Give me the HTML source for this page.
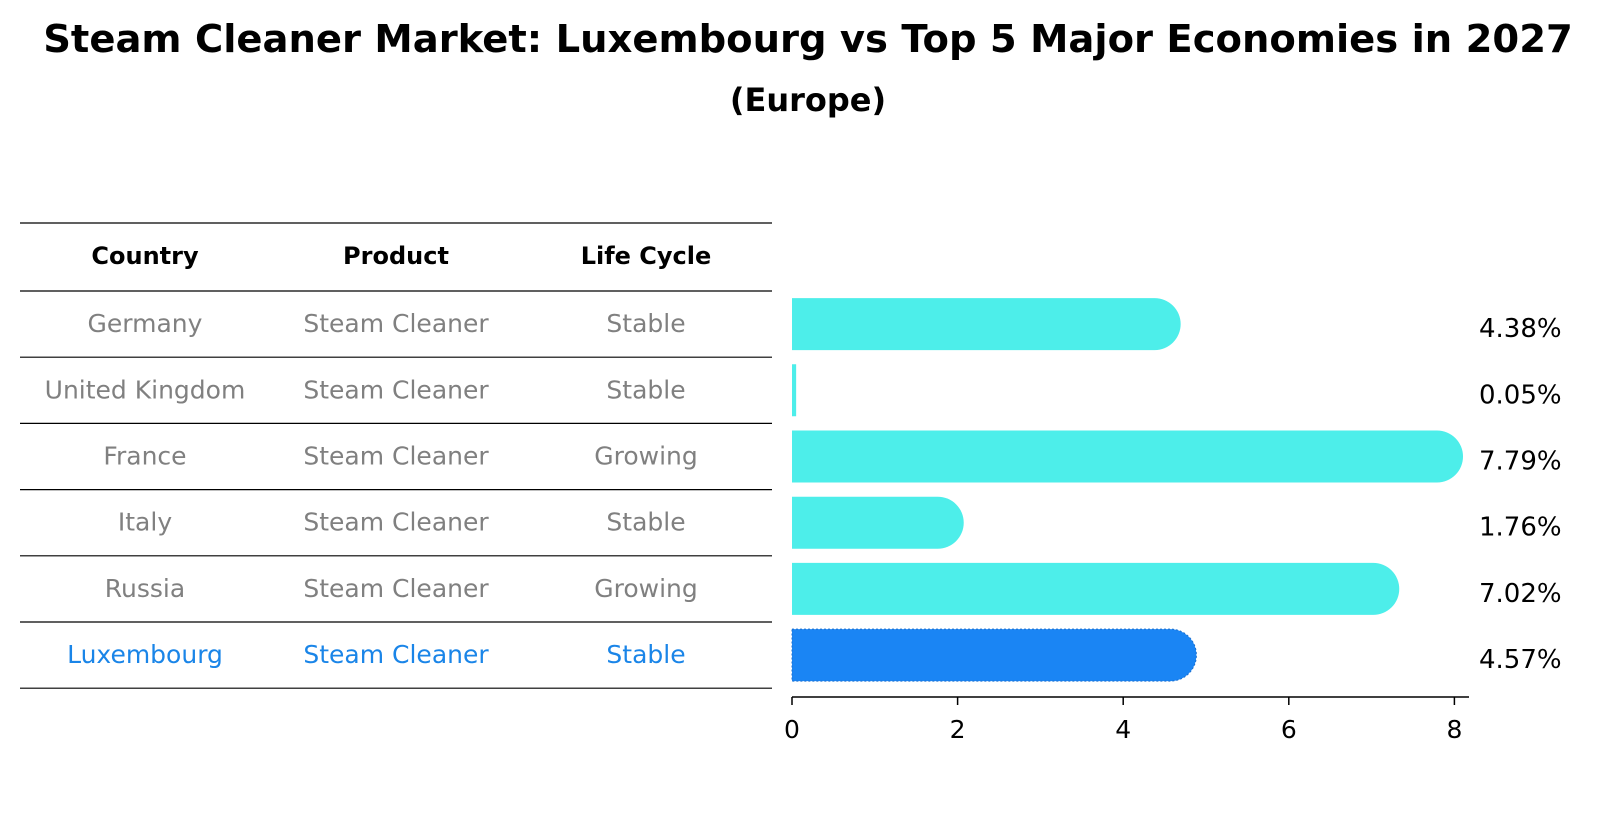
<!DOCTYPE html>
<html><head><meta charset="utf-8"><style>
html,body{margin:0;padding:0;background:#fff;}
svg{display:block;font-family:"DejaVu Sans","Liberation Sans",sans-serif;}
</style></head><body>
<svg id="chart" width="1599" height="823" viewBox="0 0 1599 823">
<text x="808" y="52" text-anchor="middle" font-size="38.5" font-weight="bold">Steam Cleaner Market: Luxembourg vs Top 5 Major Economies in 2027</text>
<text x="808" y="111" text-anchor="middle" font-size="32" font-weight="bold">(Europe)</text>
<g id="table"></g>
<g id="bars"></g>
</svg>
<script>
const countries=["Germany","United Kingdom","France","Italy","Russia","Luxembourg"];
const products=["Steam Cleaner","Steam Cleaner","Steam Cleaner","Steam Cleaner","Steam Cleaner","Steam Cleaner"];
const lifeCycles=["Stable","Stable","Growing","Stable","Growing","Stable"];
const growth=[4.38,0.05,7.79,1.76,7.02,4.57];
const xTicks=[0,2,4,6,8];

const NS="http://www.w3.org/2000/svg";
function mk(tag,attrs,parent,text){const e=document.createElementNS(NS,tag);for(const k in attrs)e.setAttribute(k,attrs[k]);if(text!==undefined)e.textContent=text;parent.appendChild(e);return e;}
const x0=792, pxPerUnit=82.8;
const xScale=v=>x0+v*pxPerUnit;
const rowTop=291, rowH=66.2;
const yCenter=i=>rowTop+rowH*(i+0.5);

const table=document.getElementById('table');
const colX=[145,396,646];
const hdr=["Country","Product","Life Cycle"];
hdr.forEach((h,j)=>{
  const t=mk('text',{x:colX[j],y:264,'text-anchor':'middle','font-size':24,'font-weight':'bold',fill:'#000'},table,h);
  
  
});
for(let k=0;k<=countries.length+1;k++){
  const y=k===0?223:rowTop+rowH*(k-1);
  const l=mk('line',{x1:20,x2:772,y1:y,y2:y,stroke:'#000','stroke-width':1.2},table);
  
  
}
countries.forEach((c,i)=>{
  const col=c==="Luxembourg"?'#1a85e8':'#808080';
  [c,products[i],lifeCycles[i]].forEach((v,j)=>{
    const t=mk('text',{x:colX[j],y:yCenter(i)+8,'text-anchor':'middle','font-size':25,fill:col},table,v);
    
    
  });
});

const bars=document.getElementById('bars');
const bh=52, r=26;
growth.forEach((v,i)=>{
  const lux=countries[i]==="Luxembourg";
  const fill=lux?'#1a85f4':'#4deeea';
  const xe=xScale(v), yt=yCenter(i)-bh/2;
  let d;
  if(v<0.5){d=`M${x0},${yt}H${xe}V${yt+bh}H${x0}Z`;}
  else{d=`M${x0},${yt}H${xe}A${r},${r} 0 0 1 ${xe},${yt+bh}H${x0}Z`;}
  const p=mk('path',{d:d,fill:fill},bars);
  if(lux){p.setAttribute('stroke','#1a6fd0');p.setAttribute('stroke-dasharray','2 2');p.setAttribute('stroke-width','1');}
  
  
  const t=mk('text',{x:1479,y:yCenter(i)+13,'font-size':26,fill:'#000'},bars,v.toFixed(2)+'%');
  
  
});
const ax=mk('line',{x1:x0,x2:1469,y1:697,y2:697,stroke:'#000','stroke-width':1.5},bars);


xTicks.forEach(v=>{
  const tl=mk('line',{x1:xScale(v),x2:xScale(v),y1:697,y2:705,stroke:'#000','stroke-width':1.5},bars);
  
  
  const t=mk('text',{x:xScale(v),y:738,'text-anchor':'middle','font-size':25,fill:'#000'},bars,String(v));
  
  
});
</script>
</body></html>
